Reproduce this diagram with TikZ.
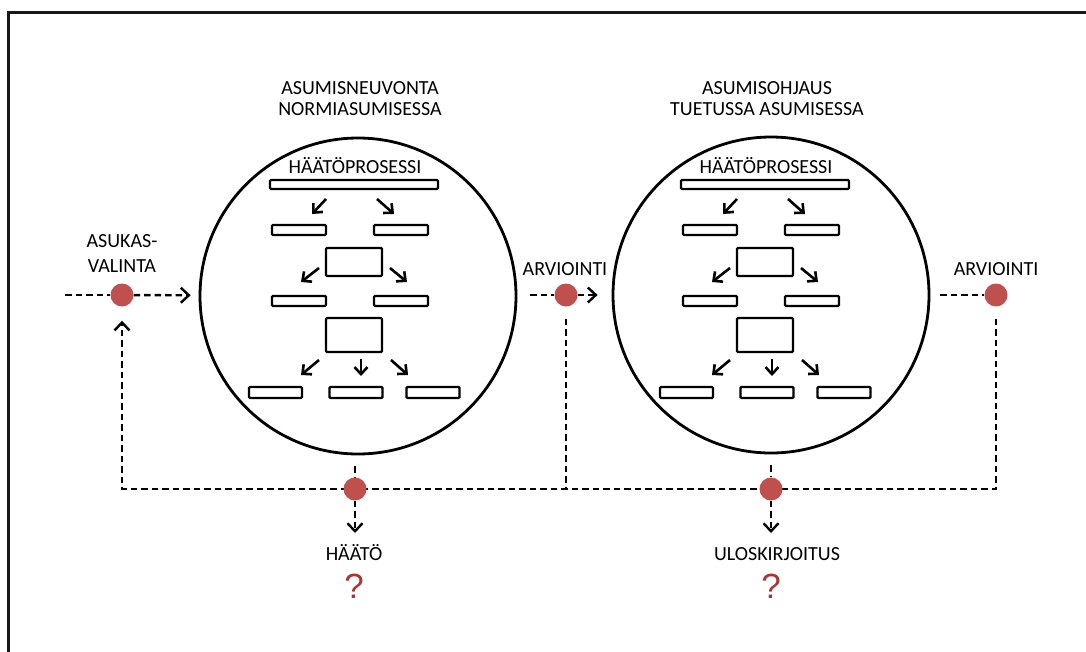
\documentclass[tikz,border=0pt]{standalone}
\usepackage{fontspec}
\setmainfont{Carlito}
\newfontfamily\qfont{Liberation Sans}
\usetikzlibrary{arrows.meta}
\definecolor{dotred}{RGB}{192,80,77}
\definecolor{qred}{RGB}{165,55,55}
\definecolor{framegray}{RGB}{25,25,25}
\pgfdeclarelayer{bg}
\pgfsetlayers{bg,main}

\tikzset{
  lbl/.style={font=\fontsize{20}{24}\selectfont, inner sep=0pt, text=black},
  bar/.style={draw, line width=2.4pt, rounded corners=1pt, inner sep=0pt, fill=white},
  ring/.style={draw, circle, line width=2.8pt, minimum size=316pt, inner sep=0pt},
  dot/.style={circle, fill=dotred, minimum size=23pt, inner sep=0pt},
  dsh/.style={line width=2.4pt, dash pattern=on 6.5pt off 4pt},
  tip/.style={-{Straight Barb[length=8pt,width=15pt]}},
  flow/.style={line width=2.6pt, -{Straight Barb[length=7pt,width=13pt]}},
  qmark/.style={font=\qfont\fontsize{35}{35}\selectfont, text=qred, inner sep=0pt}
}

% eviction process chart inside a circle
\newcommand{\processchart}{%
  \node[lbl, anchor=base] (title) at (355,173) {HÄÄTÖPROSESSI};
  \node[bar, minimum width=168pt, minimum height=9pt] (top) at (354,184.5) {};
  \node[bar, minimum width=54pt, minimum height=10pt] (r2l) at (299,230) {};
  \node[bar, minimum width=54pt, minimum height=10pt] (r2r) at (401,230) {};
  \node[bar, minimum width=56pt, minimum height=28pt] (sq1) at (354,262) {};
  \node[bar, minimum width=54pt, minimum height=10pt] (r3l) at (299,301) {};
  \node[bar, minimum width=54pt, minimum height=10pt] (r3r) at (401,301) {};
  \node[bar, minimum width=56pt, minimum height=34pt] (sq2) at (354,335) {};
  \node[bar, minimum width=53pt, minimum height=11pt] (r4l) at (275.5,392.5) {};
  \node[bar, minimum width=53pt, minimum height=11pt] (r4m) at (356,392.5) {};
  \node[bar, minimum width=53pt, minimum height=11pt] (r4r) at (433,392.5) {};
  \coordinate (a1s) at (326,199); \coordinate (a1e) at (312,214);
  \coordinate (a2s) at (377,199); \coordinate (a2e) at (394,214);
  \coordinate (a3s) at (319,268); \coordinate (a3e) at (301,282);
  \coordinate (a4s) at (390,268); \coordinate (a4e) at (407,282);
  \coordinate (a5s) at (319,360); \coordinate (a5e) at (301,375);
  \coordinate (a6s) at (361,359); \coordinate (a6e) at (361,376);
  \coordinate (a7s) at (391,360); \coordinate (a7e) at (408,375);
  \draw[flow] (a1s) -- (a1e);
  \draw[flow] (a2s) -- (a2e);
  \draw[flow] (a3s) -- (a3e);
  \draw[flow] (a4s) -- (a4e);
  \draw[flow] (a5s) -- (a5e);
  \draw[flow] (a6s) -- (a6e);
  \draw[flow] (a7s) -- (a7e);
}

\begin{document}
\begin{tikzpicture}[x=1pt, y=-1pt]
  \useasboundingbox (0,0) rectangle (1086,651);
  % outer frame
  \draw[line width=3pt, framegray] (8,660) -- (8,12) -- (1095,12);

  % the two circles
  \node[ring] (L) at (358,296) {};
  \node[ring] (R) at (771,295) {};

  \begin{scope}[name prefix=L-]
    \processchart
  \end{scope}
  \begin{scope}[name prefix=R-, xshift=411pt]
    \processchart
  \end{scope}

  % titles
  \node[lbl, anchor=north, align=center, font=\fontsize{20}{21.5}\selectfont]
    (tL) at (360,81) {ASUMISNEUVONTA\\NORMIASUMISESSA};
  \node[lbl, anchor=north, align=center, font=\fontsize{20}{21.5}\selectfont]
    (tR) at (767,81) {ASUMISOHJAUS\\TUETUSSA ASUMISESSA};

  % checkpoints
  \node[dot] (A) at (122,295) {};
  \node[dot] (M) at (566,295) {};
  \node[dot] (E) at (996,295) {};
  \node[dot] (B1) at (355,489) {};
  \node[dot] (B2) at (771,489) {};

  \node[lbl, anchor=north, align=center, font=\fontsize{20}{25}\selectfont]
    (lA) at (122,234) {ASUKAS-\\VALINTA};
  \node[lbl, anchor=base] (lM) at (565,275) {ARVIOINTI};
  \node[lbl, anchor=base] (lE) at (996,275) {ARVIOINTI};
  \node[lbl, anchor=base] (h1) at (354,560) {HÄÄTÖ};
  \node[lbl, anchor=base] (h2) at (777,560) {ULOSKIRJOITUS};
  \node[qmark, anchor=base] (q1) at (354,598) {?};
  \node[qmark, anchor=base] (q2) at (771,598) {?};

  % dashed paths
  \coordinate (sA) at (65,295);
  \coordinate (sM) at (530,295);
  \coordinate (sE) at (940,295);
  \coordinate (cA) at (122,489);
  \coordinate (cM) at (566,489);
  \coordinate (cE) at (996,489);
  \coordinate (e1) at (355,533);
  \coordinate (e2) at (771,533);
  \begin{pgfonlayer}{bg}
    \draw[dsh] (sA) -- (A);
    \draw[dsh, tip, shorten >=8pt] (A) -- (L);
    \draw[dsh] (sM) -- (M);
    \draw[dsh, tip, shorten >=14pt] (M) -- (R);
    \draw[dsh] (sE) -- (E);
    \draw[dsh, tip, shorten <=12pt, shorten >=14pt] (E) -- (cE) -- (cA) -- (A);
    \draw[dsh, shorten <=12pt] (M) -- (cM);
    \draw[dsh, shorten <=11pt] (B1 |- L.south) -- (B1);
    \draw[dsh, tip] (B1) -- (e1);
    \draw[dsh, shorten <=11pt] (B2 |- R.south) -- (B2);
    \draw[dsh, tip] (B2) -- (e2);
  \end{pgfonlayer}
\end{tikzpicture}
\end{document}
